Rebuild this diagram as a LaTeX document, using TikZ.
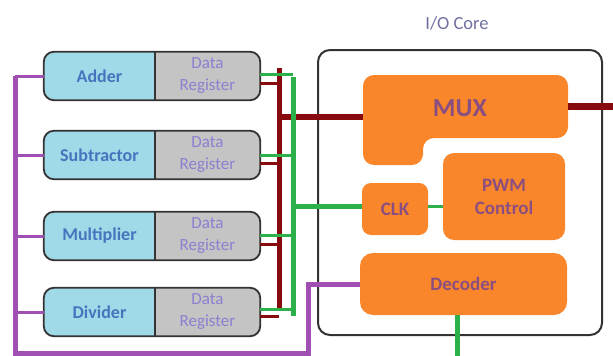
\documentclass[tikz,border=0pt]{standalone}
\usepackage{fontspec}
\setmainfont{Carlito}
\usetikzlibrary{backgrounds}

\definecolor{unitcyan}{HTML}{A0DAE8}
\definecolor{reggray}{HTML}{C4C4C4}
\definecolor{unittext}{HTML}{4675BE}
\definecolor{regtext}{HTML}{8A80D0}
\definecolor{blockorange}{HTML}{F9862A}
\definecolor{blocktext}{HTML}{8A4E80}
\definecolor{corelabel}{HTML}{7070A0}
\definecolor{busred}{HTML}{860A0E}
\definecolor{busgreen}{HTML}{2BB04A}
\definecolor{buspurple}{HTML}{A050B2}
\definecolor{outline}{HTML}{333333}

\tikzset{
  unitbox/.style={minimum width=111pt, minimum height=48pt, inner sep=0pt,
    text=unittext, font=\fontsize{18}{20}\selectfont\bfseries},
  regbox/.style={minimum width=105pt, minimum height=48pt, inner sep=0pt,
    text=regtext, align=center, font=\fontsize{17}{22}\selectfont},
  blocklabel/.style={text=blocktext, align=center, font=\fontsize{19}{23}\selectfont\bfseries},
  blockfill/.style={fill=blockorange, rounded corners=11pt},
  redbus/.style={draw=busred, line width=5pt},
  redstub/.style={draw=busred, line width=3pt},
  greenbus/.style={draw=busgreen, line width=5pt},
  greenstub/.style={draw=busgreen, line width=3pt},
  purplebus/.style={draw=buspurple, line width=5pt},
  purplestub/.style={draw=buspurple, line width=3pt},
}

\begin{document}
\begin{tikzpicture}[x=1pt, y=-1pt]
\useasboundingbox (0,0) rectangle (613,356);

% ---- I/O core frame and its label
\draw[outline, line width=2pt, rounded corners=12pt] (318,50) rectangle (602,335);
\node[text=corelabel, font=\fontsize{18.5}{20}\selectfont] (corelbl) at (457,23) {I/O Core};

% ---- orange blocks inside the core
\fill[blockfill] (363,75) -- (568,75) -- (568,138) -- (423,138) -- (423,165) -- (363,165) -- cycle;
\node[blocklabel, font=\fontsize{26}{28}\selectfont\bfseries] (mux) at (460,108) {MUX};
\coordinate (muxW) at (363,117);
\coordinate (muxE) at (568,106);

\node[blocklabel, fill=blockorange, rounded corners=11pt, minimum width=122pt, minimum height=87pt,
      inner sep=0pt] (pwm) at (504,196.5) {PWM\\Control};
\node[blocklabel, fill=blockorange, rounded corners=9pt, minimum width=66pt, minimum height=52pt,
      inner sep=0pt] (clk) at (395,209) {CLK};
\node[blocklabel, fill=blockorange, rounded corners=13pt, minimum width=207pt, minimum height=62pt,
      inner sep=0pt] (dec) at (463.5,284) {Decoder};

% ---- arithmetic units with their data registers
\foreach \n/\y/\t in {add/76/Adder, sub/155/Subtractor, mul/236/Multiplier, div/312/Divider}{
  \node[unitbox] (\n) at (99.5,\y) {\t};
  \node[regbox] (\n reg) at (207.5,\y) {Data\\Register};
  \begin{scope}[on background layer]
    \begin{scope}
      \clip[rounded corners=10pt] (\n.north west) rectangle (\n reg.south east);
      \fill[unitcyan] (\n.north west) rectangle (\n.south east);
      \fill[reggray] (\n reg.north west) rectangle (\n reg.south east);
    \end{scope}
    \draw[outline, line width=1.8pt, rounded corners=10pt] (\n.north west) rectangle (\n reg.south east);
    \draw[outline, line width=1.5pt] (\n.north east) -- (\n.south east);
  \end{scope}
}

% ---- red data bus to the MUX
\coordinate (rtop) at (279,68);
\coordinate (rbot) at (279,309);
\coordinate (rmux) at (279,117);
\coordinate (redOut) at (613,106);
\draw[redbus] (rtop) -- (rbot);
\foreach \n/\dy in {add/-7, sub/-8, mul/-8, div/-4}{
  \draw[redstub] ([yshift=\dy pt]\n reg.east) -- ([yshift=\dy pt]\n reg.east -| rtop);
}
\draw[redbus, line width=6pt] (rmux) -- (muxW);
\draw[redbus, line width=7pt] (muxE) -- (redOut);

% ---- green clock bus
\coordinate (gtop) at (293,77);
\coordinate (gbot) at (293,316);
\coordinate (gclk) at (293,206);
\coordinate (decOut) at (457,356);
\draw[greenbus] (gtop) -- (gbot);
\foreach \n/\dy in {add/2, sub/0, mul/1, div/3}{
  \draw[greenstub] ([yshift=\dy pt]\n reg.east) -- ([yshift=\dy pt]\n reg.east -| gtop);
}
\draw[greenbus] (gclk) -- (gclk -| clk.west);
\draw[greenstub] (clk.east |- gclk) -- (pwm.west |- gclk);
\draw[greenbus] (dec.south -| decOut) -- (decOut);

% ---- purple control bus from the decoder
\coordinate (ptop) at (15,76);
\coordinate (pbot) at (15,353);
\coordinate (pturn) at (308,284);
\draw[purplebus] (ptop) -- (pbot) -| (pturn) -- (dec.west);
\foreach \n in {add, sub, mul, div}{
  \draw[purplestub] (\n.west) -- (\n.west -| ptop);
}
\end{tikzpicture}
\end{document}
